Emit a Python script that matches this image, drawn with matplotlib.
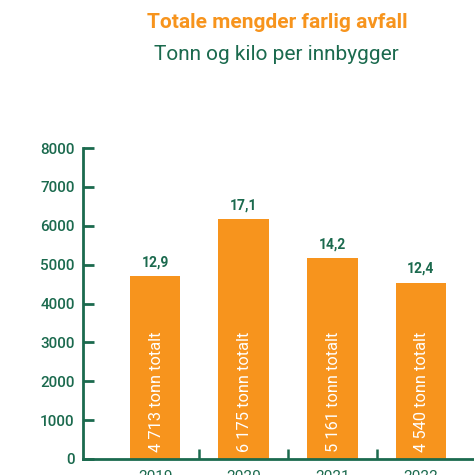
import matplotlib.pyplot as plt

plt.rcParams['font.family'] = ['Roboto', 'DejaVu Sans']

years = ['2019', '2020', '2021', '2022']
tonn = [4713, 6175, 5161, 4540]
kilo_per_innbygger = ['12,9', '17,1', '14,2', '12,4']
tonn_labels = ['4 713', '6 175', '5 161', '4 540']

orange = '#F7941D'
green = '#1B6A4E'

fig = plt.figure(figsize=(4.74, 4.75), dpi=100)
ax = fig.add_axes([83 / 474, 16 / 475, 1 - 83 / 474, 311 / 475])

x = range(len(years))
bars = ax.bar(x, tonn, width=0.57, color=orange, zorder=2)

for xi, b, kpi, tl in zip(x, bars, kilo_per_innbygger, tonn_labels):
    h = b.get_height()
    ax.text(xi, h + 170, kpi, ha='center', va='bottom', color=green,
            fontsize=10, fontweight='bold')
    ax.text(xi + 0.01, 170, f'{tl} tonn totalt', rotation=90, ha='center',
            va='bottom', color='white', fontsize=11.8)

ax.set_ylim(0, 8000)
ax.set_xlim(-0.815, 3.6)
ax.set_yticks(range(0, 8001, 1000))
ax.set_xticks(x)
ax.set_xticklabels(years)

# small separators between the categories
ax.set_xticks([0.5, 1.5, 2.5], minor=True)
ax.tick_params(axis='x', which='major', length=0, pad=8, labelsize=11,
               labelcolor=green)
ax.tick_params(axis='x', which='minor', direction='in', length=7, width=1.8,
               color=green)
ax.tick_params(axis='y', direction='in', length=8, width=2, color=green,
               labelsize=11, labelcolor=green, pad=6)
for lab in ax.get_yticklabels():
    lab.set_fontweight('medium')

for side in ['top', 'right']:
    ax.spines[side].set_visible(False)
for side in ['left', 'bottom']:
    ax.spines[side].set_color(green)
    ax.spines[side].set_linewidth(2)

fig.text(277 / 474, 1 - 22 / 475, 'Totale mengder farlig avfall', ha='center',
         va='center', color=orange, fontsize=15, fontweight='bold')
fig.text(276 / 474, 1 - 54 / 475, 'Tonn og kilo per innbygger', ha='center',
         va='center', color=green, fontsize=15)

fig.savefig('out.png', dpi=100)
